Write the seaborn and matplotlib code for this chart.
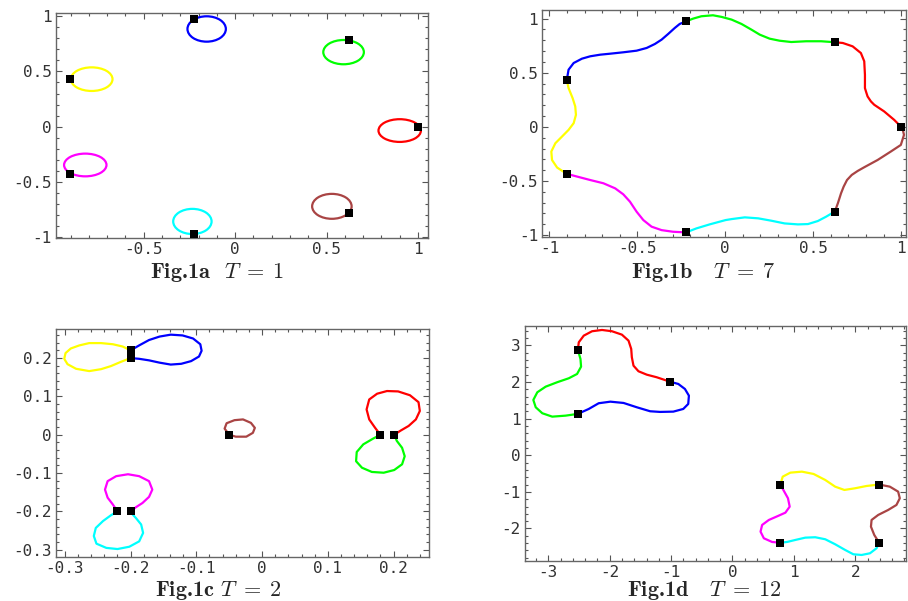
import matplotlib
matplotlib.use("Agg")
import matplotlib.pyplot as plt
import seaborn as sns
from matplotlib.patches import Ellipse
from matplotlib.ticker import MultipleLocator, FuncFormatter

# colours of the seven bodies
colors = ["#ff0000", "#00ff00", "#0000ff", "#ffff00", "#ff00ff", "#00ffff", "#a94444"]

# black squares, panels a and b (starting positions)
ab_mark_x = [1.0, 0.623, -0.223, -0.901, -0.901, -0.223, 0.623]
ab_mark_y = [0.0, 0.782, 0.975, 0.434, -0.434, -0.975, -0.782]

# panel a: small loops (red, green, blue, yellow, magenta, cyan, brown)
a_cx = [0.9, 0.593, -0.156, -0.785, -0.82, -0.234, 0.529]
a_cy = [-0.036, 0.675, 0.885, 0.43, -0.348, -0.86, -0.723]
a_rx = [0.116, 0.111, 0.105, 0.114, 0.116, 0.105, 0.108]
a_ry = [0.103, 0.110, 0.115, 0.107, 0.103, 0.114, 0.113]

# panel b: arcs between the markers
b_red = [(1.0, 0.0), (0.960, 0.065), (0.903, 0.143), (0.847, 0.204), (0.828, 0.235),
         (0.809, 0.281), (0.801, 0.321), (0.794, 0.358), (0.794, 0.481), (0.790, 0.606),
         (0.771, 0.682), (0.724, 0.744), (0.668, 0.775), (0.623, 0.782)]
b_green = [(0.623, 0.782), (0.545, 0.791), (0.460, 0.791), (0.375, 0.784), (0.309, 0.796),
           (0.252, 0.815), (0.196, 0.852), (0.149, 0.898), (0.092, 0.951), (0.036, 0.991),
           (-0.021, 1.016), (-0.070, 1.031), (-0.136, 1.022), (-0.183, 1.0), (-0.223, 0.975)]
b_blue = [(-0.223, 0.975), (-0.259, 0.951), (-0.287, 0.914), (-0.325, 0.858), (-0.362, 0.806),
          (-0.400, 0.766), (-0.447, 0.729), (-0.504, 0.704), (-0.580, 0.689), (-0.655, 0.676),
          (-0.711, 0.667), (-0.768, 0.652), (-0.815, 0.630), (-0.862, 0.590), (-0.891, 0.528),
          (-0.901, 0.434)]
b_yellow = [(-0.901, 0.434), (-0.891, 0.358), (-0.868, 0.266), (-0.853, 0.189), (-0.849, 0.111),
            (-0.862, 0.034), (-0.891, -0.028), (-0.928, -0.089), (-0.966, -0.151),
            (-0.989, -0.228), (-0.985, -0.306), (-0.956, -0.376), (-0.901, -0.434)]
b_magenta = [(-0.901, -0.434), (-0.843, -0.459), (-0.768, -0.491), (-0.693, -0.521),
             (-0.626, -0.568), (-0.580, -0.623), (-0.542, -0.691), (-0.504, -0.784),
             (-0.466, -0.861), (-0.419, -0.922), (-0.362, -0.954), (-0.297, -0.969),
             (-0.223, -0.975)]
b_cyan = [(-0.223, -0.975), (-0.164, -0.938), (-0.089, -0.901), (0.002, -0.861), (0.036, -0.852),
          (0.111, -0.836), (0.187, -0.845), (0.262, -0.867), (0.337, -0.892), (0.413, -0.901),
          (0.470, -0.898), (0.526, -0.870), (0.573, -0.830), (0.623, -0.782)]
b_brown = [(0.623, -0.782), (0.640, -0.706), (0.658, -0.614), (0.673, -0.552), (0.692, -0.491),
           (0.719, -0.444), (0.753, -0.407), (0.790, -0.373), (0.866, -0.306), (0.941, -0.228),
           (0.998, -0.167), (1.016, -0.074), (1.007, -0.012), (1.0, 0.0)]

# panel c
c_mark_x = [-0.2, -0.2, -0.05, 0.18, 0.2, -0.22, -0.2]
c_mark_y = [0.22, 0.2, 0.0, 0.0, 0.0, -0.2, -0.2]
c_red = [(0.180, 0.0), (0.172, 0.018), (0.163, 0.040), (0.159, 0.066), (0.163, 0.092),
         (0.175, 0.107), (0.190, 0.114), (0.207, 0.113), (0.225, 0.103), (0.238, 0.085),
         (0.240, 0.062), (0.234, 0.040), (0.223, 0.023), (0.211, 0.011), (0.201, 0.0)]
c_green = [(0.180, 0.0), (0.169, -0.010), (0.154, -0.025), (0.144, -0.045), (0.143, -0.069),
           (0.152, -0.086), (0.167, -0.097), (0.185, -0.099), (0.201, -0.092), (0.213, -0.077),
           (0.217, -0.056), (0.213, -0.034), (0.205, -0.016), (0.201, 0.0)]
c_blue = [(-0.2, 0.22), (-0.187, 0.233), (-0.172, 0.247), (-0.156, 0.256), (-0.139, 0.261),
          (-0.121, 0.259), (-0.105, 0.251), (-0.094, 0.236), (-0.092, 0.219), (-0.096, 0.204),
          (-0.108, 0.192), (-0.123, 0.185), (-0.139, 0.183), (-0.156, 0.188), (-0.172, 0.194),
          (-0.187, 0.198), (-0.2, 0.2)]
c_yellow = [(-0.2, 0.22), (-0.212, 0.230), (-0.227, 0.236), (-0.245, 0.239), (-0.263, 0.239),
            (-0.278, 0.233), (-0.291, 0.225), (-0.299, 0.213), (-0.301, 0.198), (-0.296, 0.184),
            (-0.283, 0.172), (-0.263, 0.166), (-0.245, 0.171), (-0.230, 0.179), (-0.215, 0.190),
            (-0.2, 0.2)]
c_magenta = [(-0.22, -0.2), (-0.227, -0.182), (-0.235, -0.164), (-0.239, -0.143), (-0.235, -0.121),
             (-0.222, -0.108), (-0.204, -0.103), (-0.187, -0.108), (-0.172, -0.121),
             (-0.167, -0.143), (-0.172, -0.162), (-0.182, -0.178), (-0.192, -0.189), (-0.2, -0.2)]
c_cyan = [(-0.22, -0.2), (-0.230, -0.210), (-0.242, -0.225), (-0.253, -0.243), (-0.256, -0.264),
          (-0.252, -0.284), (-0.237, -0.295), (-0.220, -0.298), (-0.202, -0.292), (-0.187, -0.278),
          (-0.181, -0.256), (-0.184, -0.234), (-0.192, -0.217), (-0.199, -0.204), (-0.2, -0.2)]
c_brown = [(-0.05, 0.0), (-0.040, -0.005), (-0.024, -0.005), (-0.014, 0.005), (-0.011, 0.018),
           (-0.017, 0.031), (-0.029, 0.040), (-0.042, 0.038), (-0.054, 0.030), (-0.057, 0.016),
           (-0.05, 0.0)]

# panel d
d_mark_x = [-2.52, -1.02, -2.52, 0.78, 2.39, 0.78, 2.39]
d_mark_y = [2.88, 2.01, 1.13, -0.80, -0.80, -2.39, -2.39]
d_red = [(-2.52, 2.88), (-2.504, 3.087), (-2.423, 3.268), (-2.288, 3.388), (-2.126, 3.423),
         (-1.964, 3.388), (-1.802, 3.295), (-1.694, 3.131), (-1.650, 2.904), (-1.640, 2.678),
         (-1.613, 2.448), (-1.532, 2.295), (-1.397, 2.202), (-1.235, 2.131), (-1.02, 2.01)]
d_blue = [(-1.02, 2.01), (-0.883, 1.948), (-0.775, 1.811), (-0.710, 1.628), (-0.721, 1.402),
          (-0.802, 1.265), (-0.964, 1.192), (-1.180, 1.184), (-1.342, 1.202), (-1.559, 1.311),
          (-1.775, 1.429), (-1.990, 1.464), (-2.180, 1.421), (-2.342, 1.265), (-2.52, 1.13)]
d_green = [(-2.52, 1.13), (-2.720, 1.082), (-2.937, 1.055), (-3.099, 1.148), (-3.206, 1.311),
           (-3.245, 1.511), (-3.180, 1.721), (-3.044, 1.874), (-2.856, 1.995), (-2.666, 2.104),
           (-2.532, 2.221), (-2.467, 2.421), (-2.477, 2.631), (-2.52, 2.88)]
d_yellow = [(0.78, -0.80), (0.818, -0.585), (0.943, -0.475), (1.131, -0.448), (1.321, -0.511),
            (1.511, -0.675), (1.673, -0.858), (1.823, -0.948), (1.997, -0.902), (2.185, -0.839),
            (2.39, -0.80)]
d_brown = [(2.39, -0.80), (2.564, -0.858), (2.699, -0.994), (2.726, -1.175), (2.671, -1.358),
           (2.536, -1.495), (2.374, -1.631), (2.266, -1.768), (2.256, -1.951), (2.310, -2.178),
           (2.39, -2.39)]
d_cyan = [(2.39, -2.39), (2.347, -2.541), (2.240, -2.678), (2.104, -2.724), (1.969, -2.705),
          (1.835, -2.587), (1.673, -2.432), (1.511, -2.295), (1.348, -2.240), (1.186, -2.251),
          (1.024, -2.314), (0.888, -2.369), (0.78, -2.39)]
d_magenta = [(0.78, -2.39), (0.645, -2.369), (0.511, -2.268), (0.457, -2.087), (0.483, -1.904),
             (0.592, -1.768), (0.742, -1.658), (0.862, -1.568), (0.932, -1.404), (0.904, -1.175),
             (0.835, -0.967), (0.78, -0.80)]

sns.set_style("ticks")
plt.rcParams["axes.unicode_minus"] = False
plt.rcParams["mathtext.fontset"] = "cm"

fig = plt.figure(figsize=(9.08, 6.01), dpi=100)
ax_a = fig.add_axes([0.0617, 0.604, 0.4097, 0.3744])
ax_b = fig.add_axes([0.5973, 0.6052, 0.401, 0.3782])
ax_c = fig.add_axes([0.0617, 0.0737, 0.4108, 0.3784])
ax_d = fig.add_axes([0.5779, 0.0671, 0.4201, 0.391])


def draw_curves(ax, curves):
    for pts, col in curves:
        sns.lineplot(x=[p[0] for p in pts], y=[p[1] for p in pts], sort=False,
                     estimator=None, color=col, lw=1.6, ax=ax, legend=False)


def markers(ax, xs, ys):
    sns.scatterplot(x=xs, y=ys, marker="s", color="black", s=26, linewidth=0,
                    ax=ax, zorder=5, legend=False)


def style(ax, xlim, ylim, major, minor):
    ax.set_xlim(*xlim)
    ax.set_ylim(*ylim)
    for axis in (ax.xaxis, ax.yaxis):
        axis.set_major_locator(MultipleLocator(major))
        axis.set_minor_locator(MultipleLocator(minor))
        axis.set_major_formatter(FuncFormatter(lambda v, p: f"{round(v, 6):g}"))
    ax.tick_params(which="both", direction="in", top=True, right=True,
                   color="#555555", width=0.8)
    ax.tick_params(which="major", length=4.5, labelsize=11.5, pad=3, labelcolor="#333333")
    ax.tick_params(which="minor", length=2.5)
    for lab in ax.get_xticklabels() + ax.get_yticklabels():
        lab.set_family("DejaVu Sans Mono")
    for sp in ax.spines.values():
        sp.set_color("#666666")
        sp.set_linewidth(1.0)
    ax.set_xlabel("")
    ax.set_ylabel("")


# panel a
for cx, cy, rx, ry, col in zip(a_cx, a_cy, a_rx, a_ry, colors):
    ax_a.add_patch(Ellipse((cx, cy), 2 * rx, 2 * ry, fill=False, edgecolor=col, lw=1.6))
markers(ax_a, ab_mark_x, ab_mark_y)
style(ax_a, (-0.98, 1.055), (-1.01, 1.03), 0.5, 0.1)

# panel b
draw_curves(ax_b, [(b_red, colors[0]), (b_green, colors[1]), (b_blue, colors[2]),
                   (b_yellow, colors[3]), (b_magenta, colors[4]), (b_cyan, colors[5]),
                   (b_brown, colors[6])])
markers(ax_b, ab_mark_x, ab_mark_y)
style(ax_b, (-1.04, 1.03), (-1.02, 1.08), 0.5, 0.1)

# panel c
draw_curves(ax_c, [(c_red, colors[0]), (c_green, colors[1]), (c_blue, colors[2]),
                   (c_yellow, colors[3]), (c_magenta, colors[4]), (c_cyan, colors[5]),
                   (c_brown, colors[6])])
markers(ax_c, c_mark_x, c_mark_y)
style(ax_c, (-0.3135, 0.254), (-0.318, 0.275), 0.1, 0.02)

# panel d
draw_curves(ax_d, [(d_red, colors[0]), (d_green, colors[1]), (d_blue, colors[2]),
                   (d_yellow, colors[3]), (d_magenta, colors[4]), (d_cyan, colors[5]),
                   (d_brown, colors[6])])
markers(ax_d, d_mark_x, d_mark_y)
style(ax_d, (-3.385, 2.83), (-2.88, 3.54), 1, 0.2)

cap = dict(ha="center", va="baseline", fontsize=16, family="cmb10")
fig.text(0.239, 0.5374, r"Fig.1a  $T\;=\;1$", **cap)
fig.text(0.7742, 0.5374, r"Fig.1b   $T\;=\;7$", **cap)
fig.text(0.2401, 0.0075, r"Fig.1c $T\;=\;2$", **cap)
fig.text(0.7759, 0.0075, r"Fig.1d   $T\;=\;12$", **cap)

fig.savefig("out.png", dpi=100, facecolor="white")
